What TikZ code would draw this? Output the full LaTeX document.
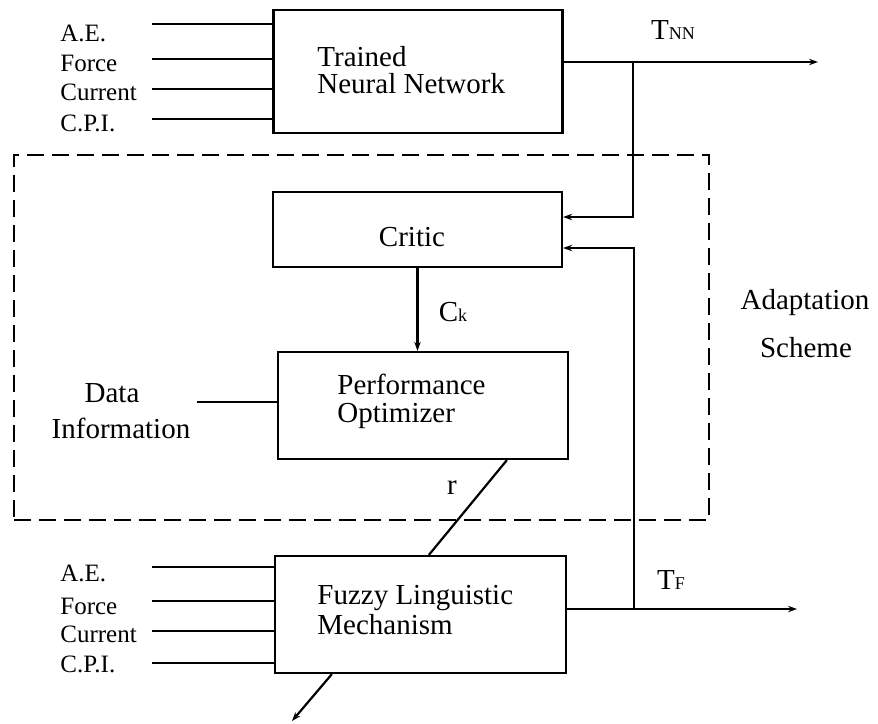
\documentclass[tikz,border=0pt]{standalone}
\usepackage{fontspec}
\setmainfont{Liberation Serif}
\usetikzlibrary{arrows.meta}
\begin{document}
\begin{tikzpicture}[x=0.5pt,y=-0.5pt,
  blk/.style={draw, line width=1.1pt, inner sep=0pt, rectangle},
  wire/.style={line width=1.1pt},
  arr/.style={wire, -{Stealth[length=4.5pt,width=3.2pt]}},
  inlbl/.style={font=\fontsize{12.5}{14}\selectfont, inner sep=0pt},
  txt/.style={font=\fontsize{14.5}{17}\selectfont, inner sep=0pt},
  frame/.style={draw, line width=1.1pt, dash pattern=on 8.5pt off 4pt, inner sep=0pt}]
\useasboundingbox (0,0) rectangle (878,723);

% adaptation scheme frame
\node[frame, minimum width=347.5pt, minimum height=182.5pt] (scheme) at (361.5,337.5) {};

% blocks
\node[blk, minimum width=144.5pt, minimum height=61.5pt] (tnn) at (418,71.5) {};
\node[blk, minimum width=144.5pt, minimum height=37.5pt] (critic) at (417.5,229.5) {};
\node[blk, minimum width=145pt, minimum height=53.5pt] (opt) at (423,405.5) {};
\node[blk, minimum width=145.5pt, minimum height=58.5pt] (fuzzy) at (420.5,614.5) {};

% block texts
\node[txt, anchor=west, align=left, font=\fontsize{14.5}{13.5}\selectfont] (tnntxt) at (317,70) {Trained\\Neural Network};
\node[txt] (crittxt) at (412,237) {Critic};
\node[txt, anchor=west, align=left, font=\fontsize{14.5}{14}\selectfont] (opttxt) at (337,401) {Performance\\Optimizer};
\node[txt, anchor=west, align=left, font=\fontsize{14.5}{15}\selectfont] (fuzztxt) at (317,610) {Fuzzy Linguistic\\Mechanism};

% inputs of the trained network
\foreach \n/\yl/\yt/\t in {1/24/33/A.E., 2/59/63/Force, 3/89/92/Current, 4/119/123/C.P.I.} {
  \node[inlbl, anchor=west] (tin\n) at (60,\yt) {\t};
  \coordinate (tsrc\n) at (152,\yl);
  \draw[wire] (tsrc\n) -- (tsrc\n -| tnn.west);
}
% inputs of the fuzzy mechanism
\foreach \n/\yl/\yt/\t in {1/567/573/A.E., 2/601/606/Force, 3/631/634/Current, 4/663/664/C.P.I.} {
  \node[inlbl, anchor=west] (fin\n) at (60,\yt) {\t};
  \coordinate (fsrc\n) at (152,\yl);
  \draw[wire] (fsrc\n) -- (fsrc\n -| fuzzy.west);
}

% network output and feedback to the critic
\coordinate (tnnout) at (818,62);
\coordinate (j1) at (633,62);
\draw[arr] (tnn.east |- tnnout) -- (tnnout);
\draw[arr] (j1) |- ([yshift=6.25pt]critic.east);
\node[txt] (tnnlbl) at (673,30) {T{\fontsize{9}{10}\selectfont NN}};

% fuzzy output and feedback to the critic
\coordinate (tfout) at (797,609);
\coordinate (j2) at (634,609);
\draw[arr] (fuzzy.east |- tfout) -- (tfout);
\draw[arr] (j2) |- ([yshift=-9.25pt]critic.east);
\node[txt] (tflbl) at (671,580) {T{\fontsize{9}{10}\selectfont F}};

% critic to optimizer
\draw[arr] (critic.south) -- (critic.south |- opt.north);
\node[txt] (cklbl) at (453,312) {C{\fontsize{9}{10}\selectfont k}};

% data information input
\node[txt] (data) at (112,393) {Data};
\node[txt] (info) at (121,428) {Information};
\coordinate (dsrc) at (197,402);
\draw[wire] (dsrc) -- (dsrc -| opt.west);

% adjustment r
\draw[wire] ([xshift=115pt]opt.south west) -- ([xshift=77.5pt]fuzzy.north west);
\node[txt] (rlbl) at (452,488) {r};
\coordinate (rout) at (292,721);
\draw[arr] ([xshift=29pt]fuzzy.south west) -- (rout);

% scheme caption
\node[txt] (adapt) at (805,303) {Adaptation};
\node[txt] (schemelbl) at (806,348) {Scheme};
\end{tikzpicture}
\end{document}
